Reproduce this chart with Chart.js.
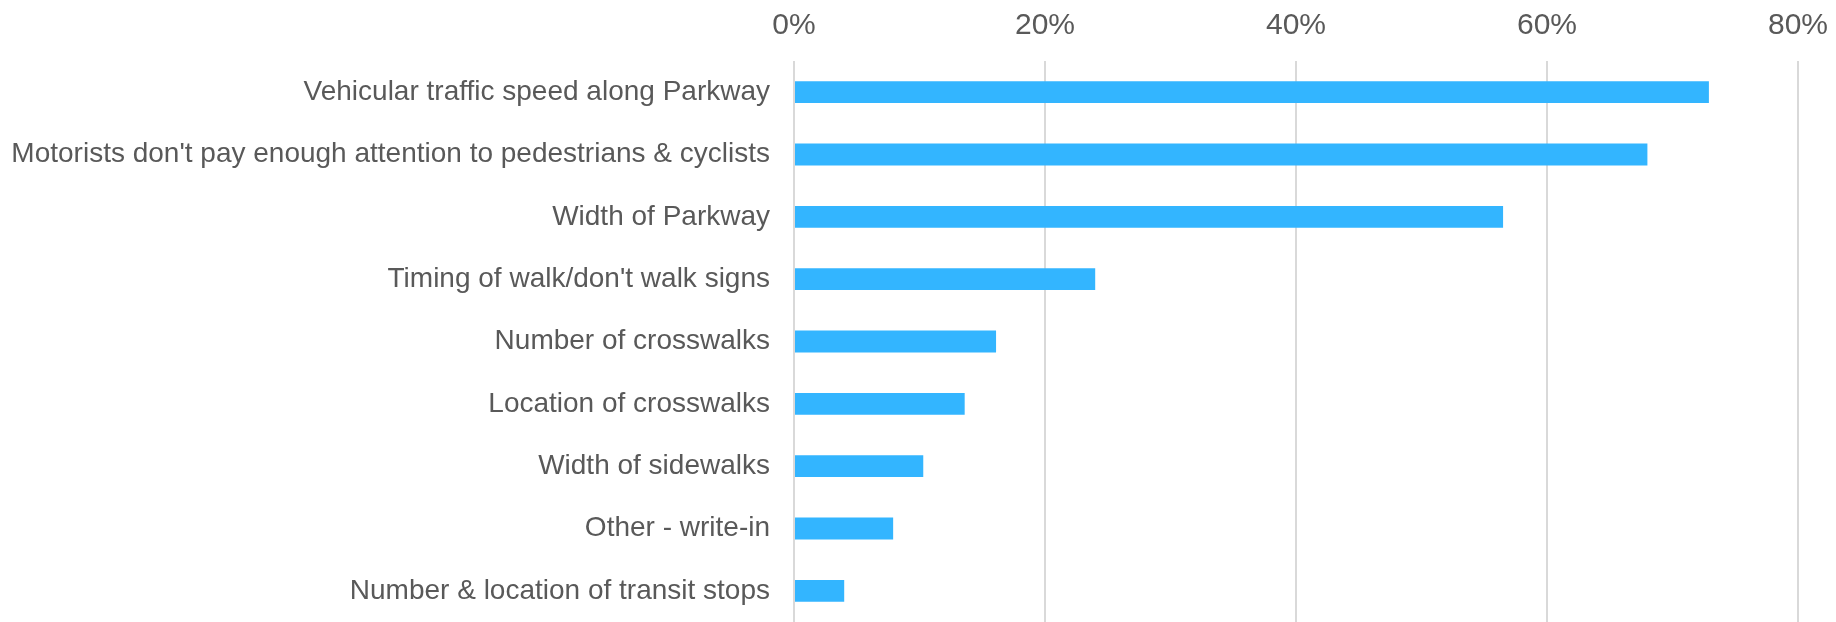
<!DOCTYPE html>
<html lang="en">
<head>
    <meta charset="UTF-8">
    <title>Parkway Safety Concerns</title>
    <style>
        body {
            margin: 0;
            padding: 0;
            background-color: #fff;
            overflow: hidden;
        }

        canvas {
            display: block;
        }
    </style>
    <script src="https://cdn.jsdelivr.net/npm/chart.js"></script>
</head>
<body>

<canvas id="concernChart" width="1836" height="622"></canvas>

<script>
    const concerns = [
        'Vehicular traffic speed along Parkway',
        "Motorists don't pay enough attention to pedestrians & cyclists",
        'Width of Parkway',
        "Timing of walk/don't walk signs",
        'Number of crosswalks',
        'Location of crosswalks',
        'Width of sidewalks',
        'Other - write-in',
        'Number & location of transit stops'
    ];

    // share of respondents, in percent
    const responseShare = [72.9, 68.0, 56.5, 24.0, 16.1, 13.6, 10.3, 7.9, 4.0];

    const axisTicks = [0, 20, 40, 60, 80];

    // drop the extra room Chart.js keeps for overhanging end labels
    function noEdgePadding(axis) {
        axis.paddingTop = 0;
        axis.paddingBottom = 0;
        axis.paddingLeft = 0;
        axis.paddingRight = 0;
    }

    const ctx = document.getElementById('concernChart').getContext('2d');
    new Chart(ctx, {
        type: 'bar',
        data: {
            labels: concerns,
            datasets: [{
                data: responseShare,
                backgroundColor: '#33b5ff',
                borderWidth: 0,
                categoryPercentage: 1,
                barPercentage: 0.35
            }]
        },
        options: {
            indexAxis: 'y',
            responsive: false,
            animation: false,
            layout: {
                padding: { left: 0, right: 38, top: 5, bottom: 0 }
            },
            plugins: {
                legend: { display: false },
                tooltip: { enabled: false }
            },
            scales: {
                x: {
                    position: 'top',
                    min: 0,
                    max: 80,
                    afterBuildTicks: (axis) => {
                        axis.ticks = axisTicks.map(v => ({ value: v }));
                    },
                    afterFit: (axis) => {
                        noEdgePadding(axis);
                        axis.height = 56;
                    },
                    ticks: {
                        callback: (v) => v + '%',
                        color: '#595959',
                        padding: 17,
                        font: { family: 'Liberation Sans', size: 30 }
                    },
                    grid: {
                        color: '#d9d9d9',
                        lineWidth: 2,
                        drawTicks: false
                    },
                    border: { display: false }
                },
                y: {
                    afterFit: (axis) => {
                        noEdgePadding(axis);
                        axis.width = 794;
                    },
                    ticks: {
                        color: '#595959',
                        padding: 16,
                        autoSkip: false,
                        font: { family: 'Liberation Sans', size: 28 }
                    },
                    grid: { display: false },
                    border: { display: false }
                }
            }
        }
    });
</script>
</body>
</html>
